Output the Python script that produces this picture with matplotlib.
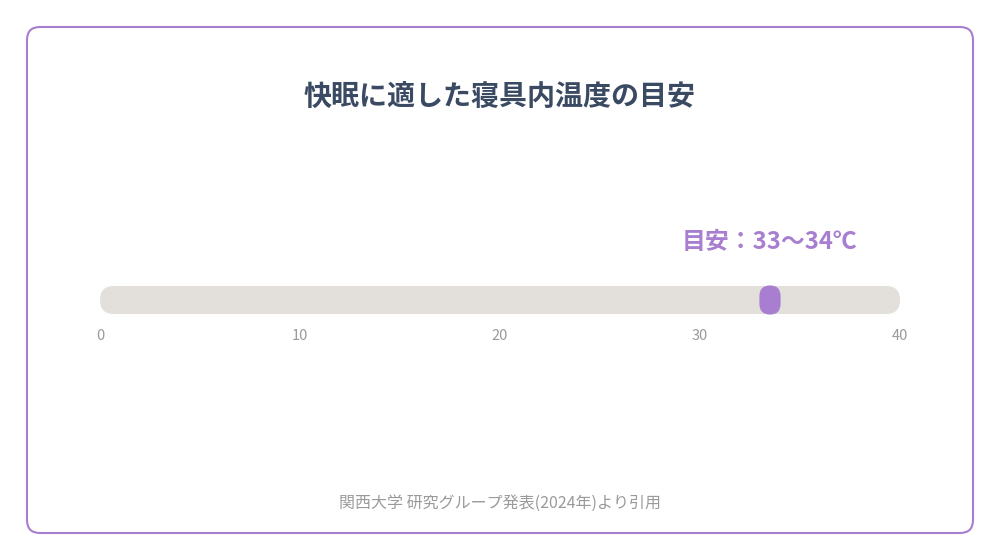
import matplotlib
matplotlib.use("Agg")
from matplotlib import pyplot as plt, patches

plt.rcParams['font.family'] = ['Noto Sans CJK JP', 'DejaVu Sans']

# data
title = "快眠に適した寝具内温度の目安"
scale_min = 0
scale_max = 40
ticks = [0, 10, 20, 30, 40]
target_low = 33
target_high = 34
target_label = "目安：33〜34℃"
source = "関西大学 研究グループ発表(2024年)より引用"

purple = '#a87fd0'
track_color = '#e3e0dc'
gray = '#9a9a9a'

fig = plt.figure(figsize=(10, 5.6), dpi=100)

# rounded frame (in inches), kept behind the axes
frame = patches.FancyBboxPatch((0.27, 0.27), 9.46, 5.06,
                               boxstyle="round,pad=0,rounding_size=0.13",
                               transform=fig.dpi_scale_trans,
                               facecolor='none', edgecolor=purple, linewidth=1.5,
                               zorder=-1)
fig.patches.append(frame)

fig.text(0.5, 1 - 98 / 560, title, ha='center', va='center',
         fontsize=20.2, fontweight='bold', color='#3b4a63')

# axes: 100..900 px wide, track 286..314 px high; 1 unit = 20 px both ways
ax = fig.add_axes([100 / 1000, 1 - 314 / 560, 800 / 1000, 28 / 560])
ax.set_xlim(scale_min, scale_max)
ax.set_ylim(-0.7, 0.7)
ax.axis('off')

track = patches.FancyBboxPatch((scale_min, -0.7), scale_max - scale_min, 1.4,
                               boxstyle="round,pad=0,rounding_size=0.7",
                               facecolor=track_color, edgecolor='none', clip_on=False)
ax.add_patch(track)

# target range pill
mark = patches.FancyBboxPatch((target_low, -0.7), target_high - target_low, 1.4,
                              boxstyle="round,pad=0.03,rounding_size=0.53",
                              facecolor=purple, edgecolor='none', clip_on=False)
ax.add_patch(mark)

for t in ticks:
    ax.text(t, -1.8, str(t), ha='center', va='center', fontsize=10.5,
            color=gray, clip_on=False)

ax.text((target_low + target_high) / 2, 2.9, target_label, ha='center', va='center',
        fontsize=17.2, fontweight='bold', color=purple, clip_on=False)

fig.text(0.5, 1 - 503 / 560, source, ha='center', va='center',
         fontsize=11.5, color=gray)

fig.savefig('out.png', dpi=100)
